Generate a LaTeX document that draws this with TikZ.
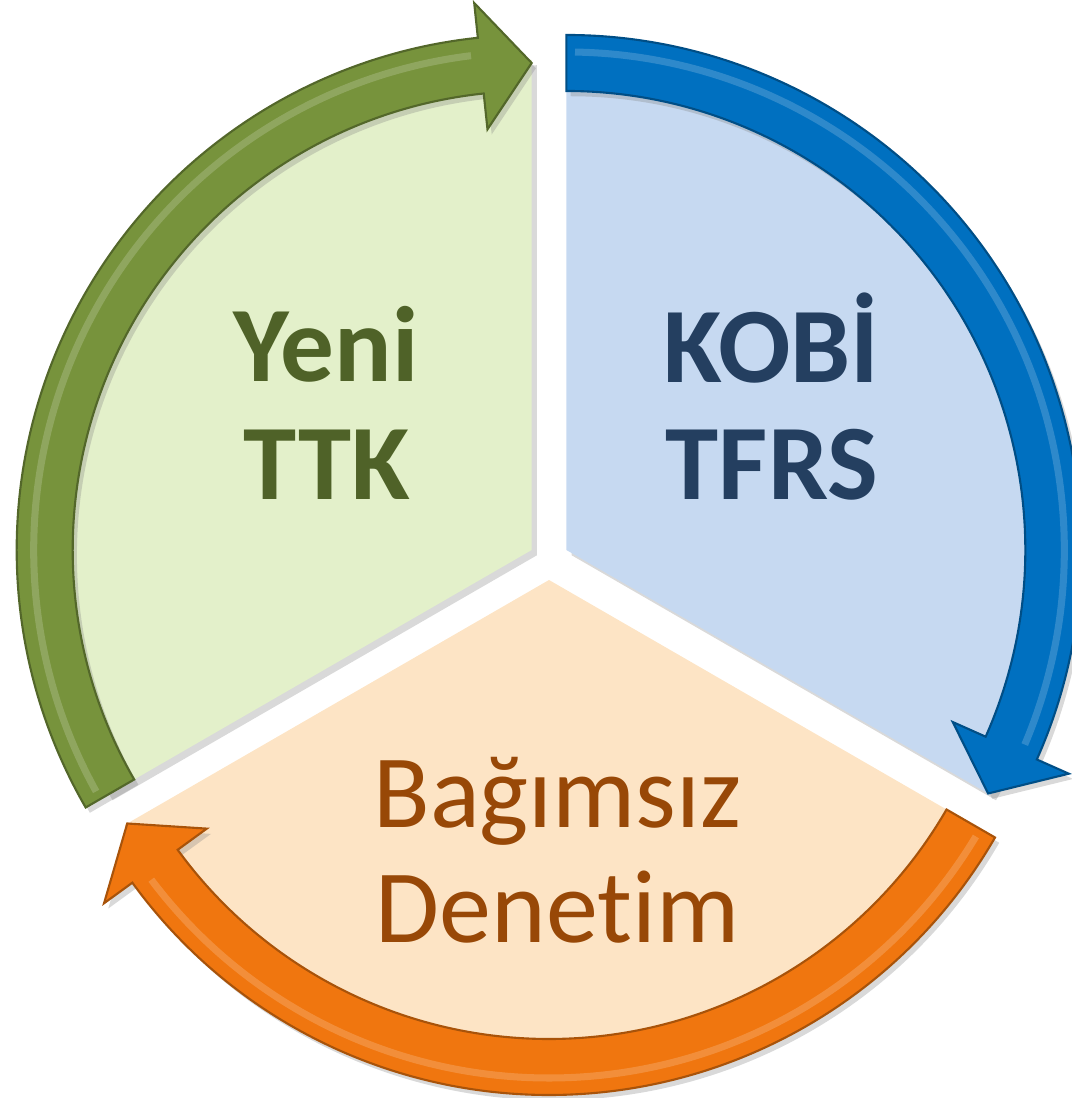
\documentclass[tikz,border=0pt]{standalone}
\usepackage{fontspec}
\setmainfont{Carlito}[Ligatures=NoCommon]
\usetikzlibrary{shadows}

\definecolor{ttkfill}{HTML}{E3F0CA}
\definecolor{ttkband}{HTML}{77933C}
\definecolor{ttktext}{HTML}{4F6228}
\definecolor{kobifill}{HTML}{C6D9F1}
\definecolor{kobiband}{HTML}{0070C0}
\definecolor{kobitext}{HTML}{243F60}
\definecolor{bdfill}{HTML}{FDE4C5}
\definecolor{bdband}{HTML}{F0760F}
\definecolor{bdtext}{HTML}{984807}

\tikzset{
    sector/.style={drop shadow={opacity=0.3,shadow xshift=1.5pt,shadow yshift=-1.5pt}},
    band/.style={draw=#1!70!black, line width=0.6pt, fill=#1,
        drop shadow={opacity=0.3,shadow xshift=1.2pt,shadow yshift=-1.5pt}},
    gloss/.style={white, opacity=0.18, line width=2pt},
    boldlabel/.style={anchor=base, font=\fontsize{30.5}{36}\selectfont\bfseries},
    plainlabel/.style={anchor=base, font=\fontsize{29.6}{35}\selectfont}
}

\begin{document}
\begin{tikzpicture}
    \pgfmathsetmacro{\rf}{4.9}
    \pgfmathsetmacro{\ri}{4.59}
    \pgfmathsetmacro{\ro}{5.15}
    \pgfmathsetmacro{\rg}{4.98}
    \pgfmathsetmacro{\hi}{4.23}
    \pgfmathsetmacro{\ho}{5.5}
    \pgfmathsetmacro{\rtip}{4.87}
    \pgfmathsetmacro{\hw}{6}
    \pgfmathsetmacro{\gap}{0.2}
    \useasboundingbox (0,0) rectangle (10.72,10.98);

    \begin{scope}[shift={(5.49,5.38)}]
    % Yeni TTK (green)
    \begin{scope}[shift={(150:\gap)}]
        \fill [ttkfill,sector] (0,0) -- (210:\rf)
            arc [start angle=210, end angle=90, radius=\rf] -- cycle;
        \path [band=ttkband] (210:\ro)
            arc [start angle=210, end angle={90+\hw}, radius=\ro]
            -- ({90+\hw}:\ho) -- (90:\rtip) -- ({90+\hw}:\hi) -- ({90+\hw}:\ri)
            arc [start angle={90+\hw}, end angle=210, radius=\ri] -- cycle;
        \draw [gloss] (209:\rg) arc [start angle=209, end angle={91+\hw}, radius=\rg];
    \end{scope}

    % KOBI TFRS (blue)
    \begin{scope}[shift={(30:\gap)}]
        \fill [kobifill,sector] (0,0) -- (90:\rf)
            arc [start angle=90, end angle=-30, radius=\rf] -- cycle;
        \path [band=kobiband] (90:\ro)
            arc [start angle=90, end angle={-30+\hw}, radius=\ro]
            -- ({-30+\hw}:\ho) -- (-30:\rtip) -- ({-30+\hw}:\hi) -- ({-30+\hw}:\ri)
            arc [start angle={-30+\hw}, end angle=90, radius=\ri] -- cycle;
        \draw [gloss] (89:\rg) arc [start angle=89, end angle={-29+\hw}, radius=\rg];
    \end{scope}

    % Bagimsiz Denetim (orange)
    \begin{scope}[shift={(270:\gap)}]
        \fill [bdfill,sector] (0,0) -- (-30:\rf)
            arc [start angle=-30, end angle=-150, radius=\rf] -- cycle;
        \path [band=bdband] (-30:\ro)
            arc [start angle=-30, end angle={-150+\hw}, radius=\ro]
            -- ({-150+\hw}:\ho) -- (-150:\rtip) -- ({-150+\hw}:\hi) -- ({-150+\hw}:\ri)
            arc [start angle={-150+\hw}, end angle=-30, radius=\ri] -- cycle;
        \draw [gloss] (-31:\rg) arc [start angle=-31, end angle={-149+\hw}, radius=\rg];
    \end{scope}
    \end{scope}

    % Labels
    \node [boldlabel, text=ttktext] (yeni) at (3.26,7.16) {Yeni};
    \node [boldlabel, text=ttktext] (ttk) at (3.27,5.98) {TTK};
    \node [boldlabel, text=kobitext] (kobi) at (7.715,7.15) {KOBİ};
    \node [boldlabel, text=kobitext] (tfrs) at (7.72,5.98) {TFRS};
    \node [plainlabel, text=bdtext] (bagimsiz) at (5.575,2.70) {Bağımsız};
    \node [plainlabel, text=bdtext] (denetim) at (5.575,1.55) {Denetim};
\end{tikzpicture}
\end{document}
